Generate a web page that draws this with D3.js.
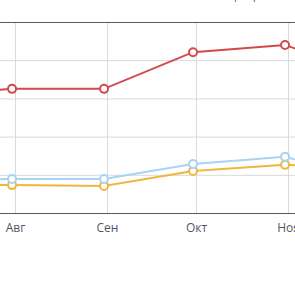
<!DOCTYPE html>
<html>
<head>
<meta charset="utf-8">
<script src="https://cdn.jsdelivr.net/npm/d3@7"></script>
<style>
  body { margin: 0; background: #fff; }
  svg { display: block; }
</style>
</head>
<body>
<div id="chart"></div>
<script>
// values; first and last points sit outside the visible crop
const dates = ['2023-06-30', '2023-07-31', '2023-08-31', '2023-09-30', '2023-10-31', '2023-11-30'];
const redValues = [305, 325, 325, 421, 440, 356];
const blueValues = [86, 89, 89, 128, 147, 84];
const yellowValues = [73, 73, 71, 110, 126, 118];
const monthLabels = ['Июл', 'Авг', 'Сен', 'Окт', 'Ноя', 'Дек'];
const yTicks = [0, 100, 200, 300, 400, 500];

const width = 295;
const height = 285;
const plotTop = 22;
const plotBottom = 213;

const parse = d3.utcParse('%Y-%m-%d');
const series = [
  { name: 'red', color: '#d04a4c', values: redValues },
  { name: 'blue', color: '#a9d3f3', values: blueValues },
  { name: 'yellow', color: '#efb73e', values: yellowValues }
];

const xScale = d3.scaleUtc()
  .domain([parse('2023-08-01'), parse('2023-11-01')])
  .range([15, 288]);
const yScale = d3.scaleLinear()
  .domain([0, 500])
  .range([plotBottom, plotTop]);

const svg = d3.select('#chart')
  .append('svg')
  .attr('width', width)
  .attr('height', height);

// horizontal grid
const yAxis = d3.axisLeft(yScale).tickValues(yTicks).tickSize(-600).tickFormat('');
svg.append('g')
  .attr('class', 'y-grid')
  .attr('transform', 'translate(-150,0)')
  .call(yAxis)
  .call(g => g.select('.domain').remove())
  .call(g => g.selectAll('line').attr('stroke', '#d9d9d9'));

// vertical grid + month labels
const xAxis = d3.axisBottom(xScale)
  .ticks(d3.utcMonth.every(1))
  .tickSize(-(plotBottom - plotTop))
  .tickPadding(10)
  .tickFormat(d => monthLabels[d.getUTCMonth() - 6]);
svg.append('g')
  .attr('class', 'x-axis')
  .attr('transform', `translate(0, ${plotBottom})`)
  .call(xAxis)
  .call(g => g.select('.domain').remove())
  .call(g => g.selectAll('line').attr('stroke', '#d9d9d9'))
  .call(g => g.selectAll('text')
    .attr('fill', '#4f5666')
    .style('font-family', '"Open Sans", sans-serif')
    .style('font-size', '12px'));

// frame lines
svg.append('line')
  .attr('x1', 0).attr('x2', width)
  .attr('y1', yScale(500) + 0.5).attr('y2', yScale(500) + 0.5)
  .attr('stroke', '#5a5a5a');
svg.append('line')
  .attr('x1', 0).attr('x2', width)
  .attr('y1', yScale(0) + 0.5).attr('y2', yScale(0) + 0.5)
  .attr('stroke', '#5a5a5a');

// cut-off legend text at the top
svg.append('text').attr('x', 234).attr('y', -1)
  .attr('fill', '#d04a4c')
  .style('font-family', '"Open Sans", sans-serif').style('font-size', '12px')
  .text('р');
svg.append('text').attr('x', 250).attr('y', -1)
  .attr('fill', '#9b2fae')
  .style('font-family', '"Open Sans", sans-serif').style('font-size', '12px')
  .text('ф');

const line = d3.line()
  .x((d, i) => xScale(parse(dates[i])))
  .y(d => yScale(d));

// draw back to front: yellow, blue, red
series.slice().reverse().forEach(s => {
  const g = svg.append('g').attr('class', 'series-' + s.name);
  g.append('path')
    .datum(s.values)
    .attr('fill', 'none')
    .attr('stroke', s.color)
    .attr('stroke-width', 2)
    .attr('d', line);
  g.selectAll('circle')
    .data(s.values).enter()
    .append('circle')
    .attr('cx', (d, i) => xScale(parse(dates[i])))
    .attr('cy', d => yScale(d))
    .attr('r', 4)
    .attr('fill', '#fff')
    .attr('stroke', s.color)
    .attr('stroke-width', 2);
});
</script>
</body>
</html>
